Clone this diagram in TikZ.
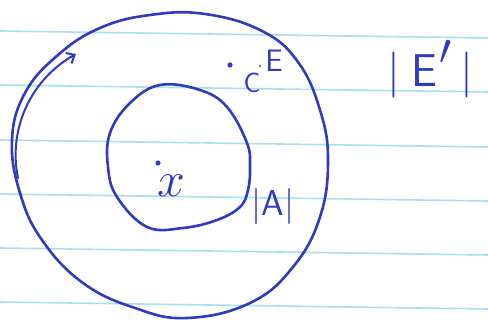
\RequirePackage{fix-cm}
\documentclass[tikz,border=0pt]{standalone}
\usetikzlibrary{arrows.meta}
\definecolor{ink}{RGB}{48,58,192}
\definecolor{rule}{RGB}{168,224,238}
\tikzset{
  ruling/.style={draw=rule, line width=1.6pt},
  pen/.style={draw=ink, line width=2.6pt, line cap=round, line join=round},
  lbl/.style={text=ink, inner sep=0pt},
  inkdot/.style={fill=ink, draw=none}
}
\begin{document}
\begin{tikzpicture}[x=1pt, y=-1pt]
\useasboundingbox[fill=white] (0,0) rectangle (488,320);
% notebook lines
\foreach \yy in {31,85,140,194,248,302}
  \draw[ruling] (0,\yy) -- (488,\yy+7);
% outer ring
\draw[pen] plot[smooth cycle, tension=0.7] coordinates {
  (150,15) (205,14) (262,31) (298,62) (320,110) (328,160) (320,217)
  (293,267) (250,303) (187,318) (135,308) (83,283) (42,240) (20,193)
  (12,140) (25,93) (58,55) (100,28)};
% inner ring
\draw[pen] plot[smooth cycle, tension=0.65] coordinates {
  (160,85) (200,90) (227,107) (247,143) (250,167) (248,190) (240,207)
  (217,220) (183,228) (147,227) (117,197) (108,167) (110,133) (130,103)};
% arrow along the outer ring
\coordinate (a0) at (18,178);
\coordinate (a1) at (76,54);
\draw[pen, line width=2pt, -{Straight Barb[length=7pt, width=12pt]}]
  (a0) .. controls (8,130) and (30,80) .. (a1);
% points
\fill[inkdot] (158,163) circle (2.6pt);
\fill[inkdot] (230,65) circle (2.6pt);
\fill[inkdot] (260,66) circle (1.2pt);
% labels
\node[lbl] (x) at (171,186) {\fontsize{50}{50}\selectfont$x$};
\node[lbl] (c) at (252,83) {\fontsize{28}{28}\selectfont\sffamily C};
\node[lbl] (E) at (274,61) {\fontsize{31}{31}\selectfont\sffamily E};
\node[lbl] (Ep) at (430,69) {\fontsize{46}{46}\selectfont\sffamily |\kern12pt E\kern2pt{\fontsize{62}{62}\selectfont$'$}\kern8pt|};
\node[lbl] (A) at (273,207) {\fontsize{36}{36}\selectfont\sffamily |A|};
\end{tikzpicture}
\end{document}
